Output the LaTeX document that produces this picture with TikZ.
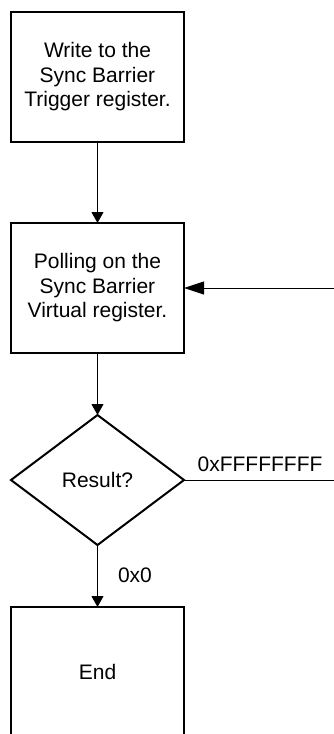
\documentclass[tikz,border=0pt]{standalone}
\usepackage{fontspec}
\setmainfont{Liberation Sans}
\usetikzlibrary{shapes.geometric,arrows.meta}
\begin{document}
\begin{tikzpicture}[x=1pt,y=-1pt,
  every node/.style={font=\fontsize{21}{24.5}\selectfont},
  stepbox/.style={draw,line width=2.5pt,minimum width=173pt,minimum height=130pt,
    align=center,inner sep=0pt,outer sep=0pt},
  decision/.style={draw,diamond,line width=2pt,minimum width=173pt,minimum height=130pt,
    inner sep=0pt,outer sep=0pt},
  flow/.style={line width=1pt,-{Triangle[length=11pt,width=12pt]}},
  back/.style={line width=1pt,-{Triangle[length=20pt,width=13pt]}},
  plain/.style={line width=1pt}]
  \clip (0,0) rectangle (334,734);

  % process steps
  \node[stepbox] (write) at (97.5,77) {Write to the\\Sync Barrier\\Trigger register.};
  \node[stepbox] (poll) at (97.5,288) {Polling on the\\Sync Barrier\\Virtual register.};
  \node[decision] (result) at (97.5,480) {Result?};
  \node[stepbox] (end) at (97.5,672) {End};

  % loop-back points on the right edge
  \coordinate (loopin) at (334,288);
  \coordinate (loopout) at (334,480);

  % connectors
  \draw[flow] (write) -- (poll);
  \draw[flow] (poll) -- (result);
  \draw[flow] (result) -- (end);
  \draw[plain] (result.east) -- (loopout);
  \draw[back] (loopin) -- (poll.east);

  % branch labels
  \node (lblall) at (260,464) {0xFFFFFFFF};
  \node (lblzero) at (135,575) {0x0};
\end{tikzpicture}
\end{document}
